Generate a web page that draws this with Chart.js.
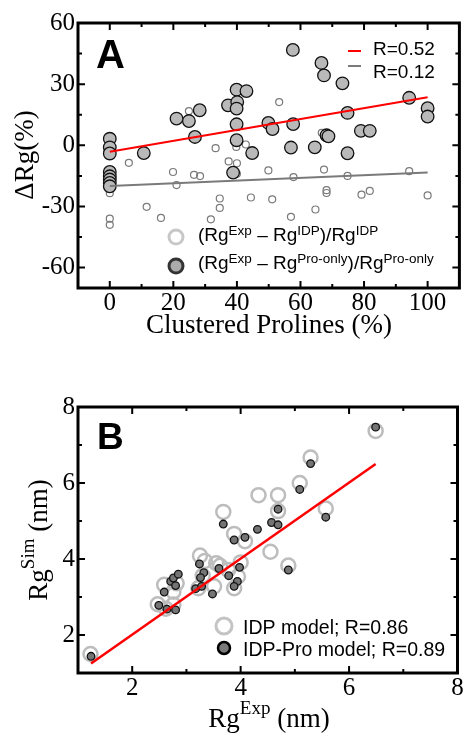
<!DOCTYPE html>
<html><head><meta charset="utf-8">
<script src="https://cdn.jsdelivr.net/npm/chart.js@4.4.1/dist/chart.umd.min.js"></script>
<style>
html,body{margin:0;padding:0;background:#fff;}
#wrap{position:relative;width:467px;height:734px;overflow:hidden;}
canvas{position:absolute;left:0;}
#cA{top:0;} #cB{top:367px;}
</style></head><body>
<div id="wrap"><canvas id="cA" width="467" height="367"></canvas><canvas id="cB" width="467" height="367"></canvas></div>
<script>
// ---------- Panel A data ----------
const prolineIdp = [0,0,0,0,0,6,11.6,16.1,19.9,21,24.9,26.5,28.4,31.8,33.3,34.6,34.6,37.4,40,39.8,42.8,40,44.4,49.9,51.1,53.3,57,57.8,64.7,66.7,67.4,68.2,68.2,74.8,79.2,81.8,94.2,100];
const deltaIdp   = [-16,-19,-23.5,-36,-39,-8.6,-30.2,-35.6,-13.1,-19.5,16.8,-14.5,-15.1,-36.3,-1.4,-26.1,-30.7,-7.9,-8.8,-0.8,0.4,-14,-25.6,-12.3,-26.5,21.2,-35.1,-15.6,-31.5,6.1,-11.9,-22,-23.4,-15,-24.2,-22.4,-12.7,-24.6];
const prolinePro = [0,0,0,0,0,0,0,0,10.7,21,24.9,26.8,28.3,37.2,39.9,43,40.1,39.9,39.9,39.9,38.8,44.8,49.9,51.2,57.6,57.7,57,64.5,66.6,67.4,68.2,68.8,73.2,74.8,74.8,79,81.8,94.2,100,100];
const deltaPro   = [3.2,-1,-4,-13.1,-15.2,-16.8,-18.5,-20.1,-3.8,13.1,11.9,4.1,17.2,19.6,27.3,26.6,21.2,18,10.3,2.5,-13.4,-3.8,11,8,46.8,10.4,-1.1,-1,40.4,34.3,4.9,4.4,30.4,15.9,-3.9,7.1,7.1,23.3,18.2,14.1];
const fitXA   = [0, 100];
const fitProA = [-3.2, 23.6];
const fitIdpA = [-20, -13.4];
const xTicksA = [0,20,40,60,80,100];
const xMinorA = [10,30,50,70,90];
const yTicksA = [-60,-30,0,30,60];
const yMinorA = [-45,-15,15,45];
const rLabelsA = ['R=0.52','R=0.12'];

// ---------- Panel B data ----------
const rgExpIdp = [1.23,2.47,2.62,2.76,2.59,2.76,2.82,3.25,3.34,3.55,3.62,3.22,3.30,3.51,4.0,3.95,3.88,4.55,3.77,3.68,3.88,4.08,4.33,4.69,4.69,5.57,4.88,5.09,5.29,6.49];
const rgSimIdp = [1.5,2.81,2.69,2.8,3.32,3.14,3.36,4.09,3.95,3.89,3.82,3.23,3.56,3.28,3.91,3.54,3.23,4.19,3.71,5.24,4.66,4.47,5.68,5.68,5.26,5.33,3.83,6.0,6.67,7.37];
const rgExpPro = [1.24,2.49,2.64,2.8,2.59,2.71,2.80,2.76,2.85,3.24,3.32,3.26,3.17,3.28,3.48,3.60,3.78,3.98,3.94,3.88,3.68,3.88,4.08,4.31,4.57,4.69,4.69,4.88,5.57,5.09,5.29,6.49];
const rgSimPro = [1.44,2.78,2.68,2.66,3.13,3.41,3.3,3.5,3.6,3.87,3.64,3.51,3.22,3.28,3.08,3.75,3.56,3.78,3.41,3.28,4.92,4.5,4.57,4.78,4.96,4.9,5.31,3.71,5.1,5.83,6.51,7.47];
const fitXB = [1.24, 6.49];
const fitYB = [1.25, 6.5];
const xTicksB = [2,4,6,8];
const xMinorB = [3,5,7];
const yTicksB = [2,4,6,8];
const yMinorB = [3,5,7];
const legendB = ['IDP model; R=0.86','IDP-Pro model; R=0.89'];

// ---------- helpers ----------
const SERIF = '"Liberation Serif", "Times New Roman", serif';
const SANS = '"Liberation Sans", Arial, sans-serif';
const pts = (xs, ys) => xs.map((x, i) => ({x, y: ys[i]}));

function drawRich(ctx, parts, x, y, o) {
  const f = s => (o.weight || 'normal') + ' ' + (s ? o.sup : o.size) + 'px ' + o.family;
  let w = 0;
  parts.forEach(([t, s]) => { ctx.font = f(s); w += ctx.measureText(t).width; });
  let cx = o.align === 'center' ? x - w / 2 : x;
  ctx.textAlign = 'left'; ctx.textBaseline = 'alphabetic'; ctx.fillStyle = o.color || '#000';
  parts.forEach(([t, s]) => { ctx.font = f(s); ctx.fillText(t, cx, s ? y - o.raise : y); cx += ctx.measureText(t).width; });
}
function frameTicks(chart, xMaj, xMin, yMaj, yMin) {
  const {ctx, chartArea: a, scales: {x, y}} = chart;
  ctx.save();
  ctx.strokeStyle = '#000'; ctx.lineWidth = 2;
  ctx.beginPath();
  const tx = (vals, len) => vals.forEach(v => { const p = x.getPixelForValue(v);
    ctx.moveTo(p, a.bottom); ctx.lineTo(p, a.bottom - len); ctx.moveTo(p, a.top); ctx.lineTo(p, a.top + len); });
  const ty = (vals, len) => vals.forEach(v => { const p = y.getPixelForValue(v);
    ctx.moveTo(a.left, p); ctx.lineTo(a.left + len, p); ctx.moveTo(a.right, p); ctx.lineTo(a.right - len, p); });
  tx(xMaj, 7); tx(xMin, 4); ty(yMaj, 7); ty(yMin, 4);
  ctx.stroke();
  ctx.lineWidth = 3;
  ctx.strokeRect(a.left, a.top, a.right - a.left, a.bottom - a.top);
  ctx.restore();
}
function circle(ctx, cx, cy, r, fill, stroke, lw) {
  ctx.beginPath(); ctx.arc(cx, cy, r, 0, Math.PI * 2);
  if (fill) { ctx.fillStyle = fill; ctx.fill(); }
  ctx.lineWidth = lw; ctx.strokeStyle = stroke; ctx.stroke();
}

function scalesFor(xMin, xMax, yMin, yMax, xT, yT, leftW, bottomH) {
  const tickFont = {family: SERIF, size: 25};
  return {
    x: {type: 'linear', min: xMin, max: xMax, grid: {display: false, drawTicks: false}, border: {display: false},
        ticks: {font: tickFont, color: '#000', padding: 0, maxRotation: 0},
        afterBuildTicks: s => { s.ticks = xT.map(v => ({value: v})); },
        afterFit: s => { s.height = bottomH; }},
    y: {type: 'linear', min: yMin, max: yMax, grid: {display: false, drawTicks: false}, border: {display: false},
        ticks: {font: tickFont, color: '#000', padding: 3},
        afterBuildTicks: s => { s.ticks = yT.map(v => ({value: v})); },
        afterFit: s => { s.width = leftW; }}
  };
}

// ---------- Panel A ----------
const decoA = {
  id: 'decoA',
  afterDraw(chart) {
    const ctx = chart.ctx;
    frameTicks(chart, xTicksA, xMinorA, yTicksA, yMinorA);
    ctx.save();
    // panel letter
    ctx.fillStyle = '#000'; ctx.font = 'bold 40px ' + SANS; ctx.textAlign = 'left'; ctx.textBaseline = 'alphabetic';
    ctx.fillText('A', 96, 68);
    // fit legend
    ctx.lineWidth = 2;
    ctx.strokeStyle = '#ff0000'; ctx.beginPath(); ctx.moveTo(348, 51); ctx.lineTo(361, 51); ctx.stroke();
    ctx.strokeStyle = '#7a7a7a'; ctx.beginPath(); ctx.moveTo(348, 66); ctx.lineTo(361, 66); ctx.stroke();
    ctx.font = '19px ' + SANS; ctx.fillStyle = '#000';
    ctx.fillText(rLabelsA[0], 373, 55);
    ctx.fillText(rLabelsA[1], 373, 78);
    // series legend
    circle(ctx, 176, 237, 7, null, '#c8c8c8', 3);
    circle(ctx, 176, 266, 7, '#ababab', '#333', 3);
    const o = {size: 19, sup: 13.5, family: SANS, raise: 6};
    drawRich(ctx, [['(Rg', 0], ['Exp', 1], [' \u2013 Rg', 0], ['IDP', 1], [')/Rg', 0], ['IDP', 1]], 198, 241, o);
    drawRich(ctx, [['(Rg', 0], ['Exp', 1], [' \u2013 Rg', 0], ['Pro-only', 1], [')/Rg', 0], ['Pro-only', 1]], 198, 269, o);
    // axis titles
    drawRich(ctx, [['Clustered Prolines (%)', 0]], 269, 333, {size: 27, sup: 19, family: SERIF, raise: 12, align: 'center'});
    ctx.translate(33, 155); ctx.rotate(-Math.PI / 2);
    drawRich(ctx, [['\u0394Rg(%)', 0]], 0, 0, {size: 27, sup: 19, family: SERIF, raise: 12, align: 'center'});
    ctx.restore();
  }
};
new Chart(document.getElementById('cA'), {
  type: 'scatter',
  data: {datasets: [
    {type: 'line', data: pts(fitXA, fitProA), borderColor: '#ff0000', borderWidth: 2, pointRadius: 0, order: 0},
    {type: 'line', data: pts(fitXA, fitIdpA), borderColor: '#7a7a7a', borderWidth: 2, pointRadius: 0, order: 0},
    {data: pts(prolinePro, deltaPro), backgroundColor: '#b9b9b9', borderColor: '#111', borderWidth: 1.3, pointRadius: 6.3, order: 1},
    {data: pts(prolineIdp, deltaIdp), backgroundColor: 'rgba(255,255,255,0)', borderColor: '#7a7a7a', borderWidth: 1.2, pointRadius: 3.5, order: 2}
  ]},
  options: {
    responsive: false, animation: false, devicePixelRatio: 1,
    layout: {padding: {top: 23, right: 7, left: 0, bottom: 0}},
    plugins: {legend: {display: false}, tooltip: {enabled: false}},
    scales: scalesFor(-10, 110, -70, 60, xTicksA, yTicksA, 78, 79)
  },
  plugins: [decoA]
});

// ---------- Panel B ----------
const decoB = {
  id: 'decoB',
  afterDraw(chart) {
    const ctx = chart.ctx;
    frameTicks(chart, xTicksB, xMinorB, yTicksB, yMinorB);
    ctx.save();
    ctx.fillStyle = '#000'; ctx.font = 'bold 37px ' + SANS; ctx.textAlign = 'left'; ctx.textBaseline = 'alphabetic';
    ctx.fillText('B', 97, 82);
    circle(ctx, 224, 259, 8, null, '#c4c4c4', 3);
    circle(ctx, 224, 281, 6, '#7a7a7a', '#000', 2.5);
    ctx.font = '19.5px ' + SANS; ctx.fillStyle = '#000';
    ctx.fillText(legendB[0], 243, 267);
    ctx.fillText(legendB[1], 243, 289);
    const o = {size: 27, sup: 19, family: SERIF, raise: 13, align: 'center'};
    drawRich(ctx, [['Rg', 0], ['Exp', 1], [' (nm)', 0]], 269, 360, o);
    ctx.translate(47, 173); ctx.rotate(-Math.PI / 2);
    drawRich(ctx, [['Rg', 0], ['Sim', 1], [' (nm)', 0]], 0, 0, o);
    ctx.restore();
  }
};
new Chart(document.getElementById('cB'), {
  type: 'scatter',
  data: {datasets: [
    {type: 'line', data: pts(fitXB, fitYB), borderColor: '#ff0000', borderWidth: 2.5, pointRadius: 0, order: 0},
    {data: pts(rgExpPro, rgSimPro), backgroundColor: '#747474', borderColor: '#111', borderWidth: 1.3, pointRadius: 3.8, order: 1},
    {data: pts(rgExpIdp, rgSimIdp), backgroundColor: 'rgba(255,255,255,0)', borderColor: '#bdbdbd', borderWidth: 2.5, pointRadius: 7, order: 2}
  ]},
  options: {
    responsive: false, animation: false, devicePixelRatio: 1,
    layout: {padding: {top: 40, right: 7, left: 0, bottom: 0}},
    plugins: {legend: {display: false}, tooltip: {enabled: false}},
    scales: scalesFor(1, 8, 1, 8, xTicksB, yTicksB, 78, 61)
  },
  plugins: [decoB]
});
</script>
</body></html>
